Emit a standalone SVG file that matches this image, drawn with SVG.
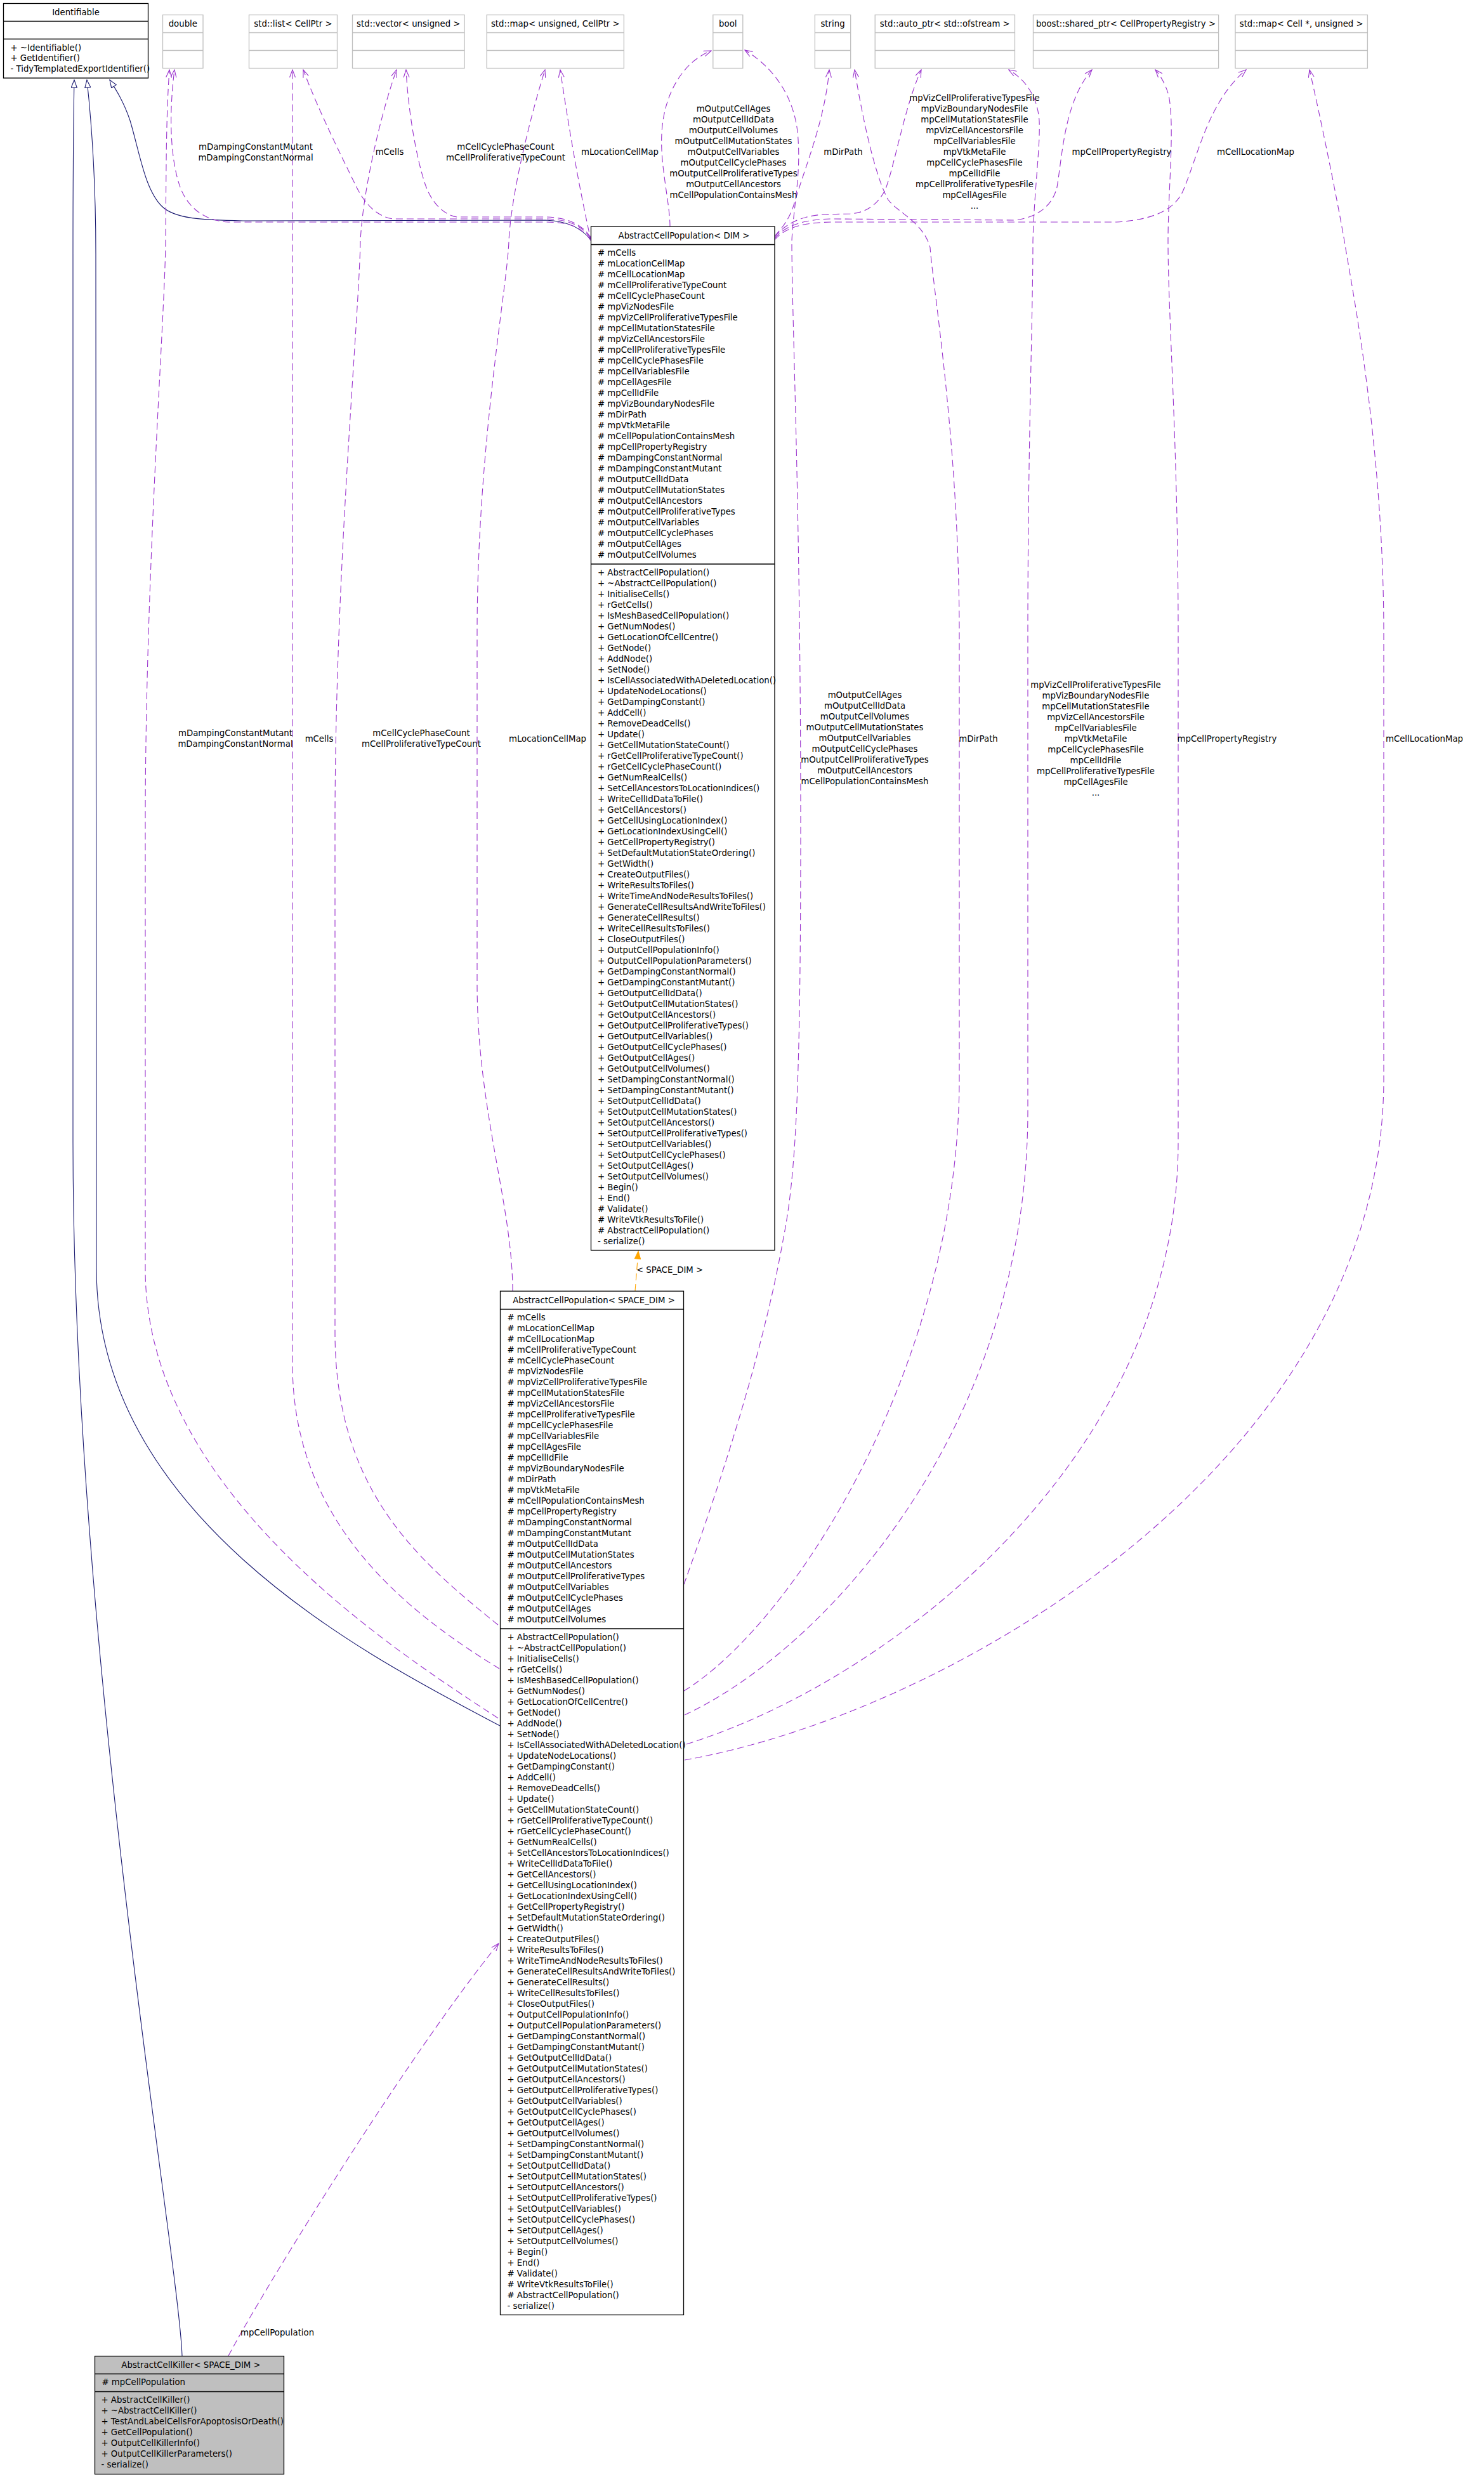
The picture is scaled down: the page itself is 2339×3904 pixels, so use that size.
<svg xmlns="http://www.w3.org/2000/svg" width="2339" height="3904" viewBox="0 0 2339 3904">
<style>
text { font-family: "DejaVu Sans", "Liberation Sans", sans-serif; font-size: 13.3px; fill: #000; }
.c { text-anchor: middle; }
.box { fill: #fff; stroke: #000; stroke-width: 1.3; }
.gbox { fill: #bfbfbf; stroke: #000; stroke-width: 1.3; }
.ext { fill: #fff; stroke: #bfbfbf; stroke-width: 1.3; }
.sep { stroke: #000; stroke-width: 1.3; }
.gsep { stroke: #bfbfbf; stroke-width: 1.3; }
.dep { fill: none; stroke: #9a32cd; stroke-width: 1.1; stroke-dasharray: 11 6; marker-end: url(#open); }
.inh { fill: none; stroke: #191970; stroke-width: 1.1; marker-end: url(#tri); }
.tpl { fill: none; stroke: #ffa500; stroke-width: 1.1; stroke-dasharray: 11 6; marker-end: url(#ftri); }
</style>
<defs>
<marker id="open" viewBox="0 0 14 10" refX="13" refY="5" markerWidth="14" markerHeight="10" markerUnits="userSpaceOnUse" orient="auto">
<path d="M1,0.5 L13,5 L1,9.5" fill="none" stroke="#9a32cd" stroke-width="1.1"/>
</marker>
<marker id="tri" viewBox="0 0 14 10" refX="13" refY="5" markerWidth="14" markerHeight="10" markerUnits="userSpaceOnUse" orient="auto">
<path d="M1,0.5 L13,5 L1,9.5 Z" fill="#fff" stroke="#191970" stroke-width="1.1"/>
</marker>
<marker id="ftri" viewBox="0 0 14 10" refX="13" refY="5" markerWidth="14" markerHeight="10" markerUnits="userSpaceOnUse" orient="auto">
<path d="M1,0.5 L13,5 L1,9.5 Z" fill="#ffa500" stroke="#ffa500" stroke-width="1.1"/>
</marker>
</defs>
<rect x="0" y="0" width="2339" height="3904" fill="#fff"/>

<g id="connectors">
<path class="inh" d="M931,377 C915,360 898,349 860,347 L383,348 C320,347 275,345 255,325 C228,298 220,240 205,190 C195,160 182,140 173,126"/>
<path class="inh" d="M788,2720 C600,2620 152,2400 152,2000 L151,400 C151,300 145,200 137,126"/>
<path class="inh" d="M287,3713 C282,3560 115,2600 115,1800 L115,400 C115,250 116,180 117,126"/>

<path class="dep" d="M931,379 C918,359 900,350 860,350 L360,350 C320,348 295,325 284,295 C268,250 266,180 275,110"/>
<path class="dep" d="M931,376 C918,357 900,346 860,345 L620,345 C595,342 575,322 561,293 C540,250 500,170 478,110"/>
<path class="dep" d="M931,374 C918,356 900,343 860,342 L720,342 C700,339 680,320 670,290 C655,245 643,170 640,110"/>
<path class="dep" d="M932,382 C925,350 905,260 883,110"/>

<path class="dep" d="M1056,357 C1056,320 1040,260 1043,210 C1046,150 1075,98 1121,80"/>
<path class="dep" d="M1221,372 C1232,360 1245,345 1252,320 C1270,260 1300,190 1307,110"/>
<path class="dep" d="M1221,374 C1235,355 1260,340 1300,338 L1340,337 C1370,335 1385,318 1395,300 C1410,262 1425,170 1452,110"/>
<path class="dep" d="M1221,376 C1237,356 1265,346 1310,345 L1600,347 C1640,342 1660,320 1666,295 C1675,240 1678,160 1721,110"/>
<path class="dep" d="M1221,378 C1238,358 1268,350 1315,350 L1760,350 C1820,346 1852,330 1865,300 C1890,240 1905,160 1964,110"/>

<path class="dep" d="M785,2708 C620,2600 229,2350 229,2000 L229,1300 C229,900 260,500 261,380 C262,250 262,180 267,110"/>
<path class="dep" d="M787,2630 C640,2540 461,2400 461,2150 L461,110"/>
<path class="dep" d="M785,2561 C660,2460 528,2350 528,2100 L528,1300 C528,900 566,500 568,380 C572,300 600,180 625,110"/>
<path class="dep" d="M808,2035 C808,1900 752,1750 752,1550 L752,1000 C752,700 800,450 802,380 C806,300 840,170 859,110"/>

<path class="dep" d="M1078,2497 C1120,2380 1200,2150 1235,1950 C1255,1850 1262,1700 1262,1300 C1262,800 1248,500 1248,380 C1250,330 1262,280 1258,220 C1255,160 1225,110 1174,79"/>
<path class="dep" d="M1078,2665 C1250,2560 1512,2150 1512,1700 L1512,1000 C1512,700 1470,450 1466,390 C1455,350 1415,335 1400,315 C1380,280 1360,190 1347,110"/>
<path class="dep" d="M1079,2703 C1300,2600 1620,2250 1620,1750 L1620,1000 C1620,700 1628,500 1628,380 C1630,300 1640,230 1638,190 C1635,150 1615,125 1590,110"/>
<path class="dep" d="M1082,2749 C1400,2650 1857,2300 1857,1800 L1857,1000 C1857,700 1841,500 1841,380 C1841,300 1852,200 1842,150 C1836,130 1828,118 1821,110"/>
<path class="dep" d="M1079,2774 C1500,2700 2181,2300 2181,1700 L2181,1000 C2181,700 2130,450 2119,380 C2105,300 2080,180 2064,110"/>

<path class="dep" d="M360,3713 C420,3600 650,3230 786,3063"/>

<path class="tpl" d="M1001,2035 L1006,1972"/>

<text class="c" x="403" y="235.5">mDampingConstantMutant</text>
<text class="c" x="403" y="252.5">mDampingConstantNormal</text>
<text class="c" x="614" y="243.5">mCells</text>
<text class="c" x="797" y="235.5">mCellCyclePhaseCount</text>
<text class="c" x="797" y="252.5">mCellProliferativeTypeCount</text>
<text class="c" x="977" y="243.5">mLocationCellMap</text>
<text class="c" y="175.5"><tspan x="1156">mOutputCellAges</tspan><tspan x="1156" dy="17">mOutputCellIdData</tspan><tspan x="1156" dy="17">mOutputCellVolumes</tspan><tspan x="1156" dy="17">mOutputCellMutationStates</tspan><tspan x="1156" dy="17">mOutputCellVariables</tspan><tspan x="1156" dy="17">mOutputCellCyclePhases</tspan><tspan x="1156" dy="17">mOutputCellProliferativeTypes</tspan><tspan x="1156" dy="17">mOutputCellAncestors</tspan><tspan x="1156" dy="17">mCellPopulationContainsMesh</tspan></text>
<text class="c" x="1329" y="243.5">mDirPath</text>
<text class="c" y="158.5"><tspan x="1536">mpVizCellProliferativeTypesFile</tspan><tspan x="1536" dy="17">mpVizBoundaryNodesFile</tspan><tspan x="1536" dy="17">mpCellMutationStatesFile</tspan><tspan x="1536" dy="17">mpVizCellAncestorsFile</tspan><tspan x="1536" dy="17">mpCellVariablesFile</tspan><tspan x="1536" dy="17">mpVtkMetaFile</tspan><tspan x="1536" dy="17">mpCellCyclePhasesFile</tspan><tspan x="1536" dy="17">mpCellIdFile</tspan><tspan x="1536" dy="17">mpCellProliferativeTypesFile</tspan><tspan x="1536" dy="17">mpCellAgesFile</tspan><tspan x="1536" dy="17">...</tspan></text>
<text class="c" x="1768" y="243.5">mpCellPropertyRegistry</text>
<text class="c" x="1979" y="243.5">mCellLocationMap</text>

<text class="c" x="371" y="1160">mDampingConstantMutant</text>
<text class="c" x="371" y="1177">mDampingConstantNormal</text>
<text class="c" x="503" y="1169">mCells</text>
<text class="c" x="664" y="1160">mCellCyclePhaseCount</text>
<text class="c" x="664" y="1177">mCellProliferativeTypeCount</text>
<text class="c" x="863" y="1169">mLocationCellMap</text>
<text class="c" y="1100"><tspan x="1363">mOutputCellAges</tspan><tspan x="1363" dy="17">mOutputCellIdData</tspan><tspan x="1363" dy="17">mOutputCellVolumes</tspan><tspan x="1363" dy="17">mOutputCellMutationStates</tspan><tspan x="1363" dy="17">mOutputCellVariables</tspan><tspan x="1363" dy="17">mOutputCellCyclePhases</tspan><tspan x="1363" dy="17">mOutputCellProliferativeTypes</tspan><tspan x="1363" dy="17">mOutputCellAncestors</tspan><tspan x="1363" dy="17">mCellPopulationContainsMesh</tspan></text>
<text class="c" x="1542" y="1168.5">mDirPath</text>
<text class="c" y="1084"><tspan x="1727">mpVizCellProliferativeTypesFile</tspan><tspan x="1727" dy="17">mpVizBoundaryNodesFile</tspan><tspan x="1727" dy="17">mpCellMutationStatesFile</tspan><tspan x="1727" dy="17">mpVizCellAncestorsFile</tspan><tspan x="1727" dy="17">mpCellVariablesFile</tspan><tspan x="1727" dy="17">mpVtkMetaFile</tspan><tspan x="1727" dy="17">mpCellCyclePhasesFile</tspan><tspan x="1727" dy="17">mpCellIdFile</tspan><tspan x="1727" dy="17">mpCellProliferativeTypesFile</tspan><tspan x="1727" dy="17">mpCellAgesFile</tspan><tspan x="1727" dy="17">...</tspan></text>
<text class="c" x="1934" y="1168.5">mpCellPropertyRegistry</text>
<text class="c" x="2245" y="1168.5">mCellLocationMap</text>
<text x="1003" y="2006">&lt; SPACE_DIM &gt;</text>
<text x="379" y="3681">mpCellPopulation</text>
</g>

<g id="Identifiable">
<rect class="box" x="5.5" y="5.5" width="228" height="117.5"/>
<line class="sep" x1="5.5" y1="33.5" x2="233.5" y2="33.5"/>
<line class="sep" x1="5.5" y1="61.5" x2="233.5" y2="61.5"/>
<text class="c" x="119.5" y="24.3">Identifiable</text>
<text x="16.5" y="79.5">+ ~Identifiable()</text>
<text x="16.5" y="96.3">+ GetIdentifier()</text>
<text x="16.5" y="113">- TidyTemplatedExportIdentifier()</text>
</g>

<g id="double">
<rect class="ext" x="256.5" y="23.5" width="63.5" height="84"/>
<line class="gsep" x1="256.5" y1="51.5" x2="320" y2="51.5"/>
<line class="gsep" x1="256.5" y1="79.5" x2="320" y2="79.5"/>
<text class="c" x="288.3" y="41.5">double</text>
</g>
<g id="std_list">
<rect class="ext" x="392.5" y="23.5" width="139" height="84"/>
<line class="gsep" x1="392.5" y1="51.5" x2="531.5" y2="51.5"/>
<line class="gsep" x1="392.5" y1="79.5" x2="531.5" y2="79.5"/>
<text class="c" x="462" y="41.5">std::list&lt; CellPtr &gt;</text>
</g>
<g id="std_vector">
<rect class="ext" x="555.5" y="23.5" width="176.6" height="84"/>
<line class="gsep" x1="555.5" y1="51.5" x2="732.1" y2="51.5"/>
<line class="gsep" x1="555.5" y1="79.5" x2="732.1" y2="79.5"/>
<text class="c" x="643.8" y="41.5">std::vector&lt; unsigned &gt;</text>
</g>
<g id="std_map_unsigned">
<rect class="ext" x="767.2" y="23.5" width="216.2" height="84"/>
<line class="gsep" x1="767.2" y1="51.5" x2="983.4" y2="51.5"/>
<line class="gsep" x1="767.2" y1="79.5" x2="983.4" y2="79.5"/>
<text class="c" x="875.3" y="41.5">std::map&lt; unsigned, CellPtr &gt;</text>
</g>
<g id="bool">
<rect class="ext" x="1123.8" y="23.5" width="47" height="84"/>
<line class="gsep" x1="1123.8" y1="51.5" x2="1170.8" y2="51.5"/>
<line class="gsep" x1="1123.8" y1="79.5" x2="1170.8" y2="79.5"/>
<text class="c" x="1147.3" y="41.5">bool</text>
</g>
<g id="string">
<rect class="ext" x="1284.4" y="23.5" width="56.3" height="84"/>
<line class="gsep" x1="1284.4" y1="51.5" x2="1340.7" y2="51.5"/>
<line class="gsep" x1="1284.4" y1="79.5" x2="1340.7" y2="79.5"/>
<text class="c" x="1312.5" y="41.5">string</text>
</g>
<g id="std_auto_ptr">
<rect class="ext" x="1379.2" y="23.5" width="220.3" height="84"/>
<line class="gsep" x1="1379.2" y1="51.5" x2="1599.5" y2="51.5"/>
<line class="gsep" x1="1379.2" y1="79.5" x2="1599.5" y2="79.5"/>
<text class="c" x="1489.3" y="41.5">std::auto_ptr&lt; std::ofstream &gt;</text>
</g>
<g id="boost_shared_ptr">
<rect class="ext" x="1628.5" y="23.5" width="292.1" height="84"/>
<line class="gsep" x1="1628.5" y1="51.5" x2="1920.6" y2="51.5"/>
<line class="gsep" x1="1628.5" y1="79.5" x2="1920.6" y2="79.5"/>
<text class="c" x="1774.5" y="41.5">boost::shared_ptr&lt; CellPropertyRegistry &gt;</text>
</g>
<g id="std_map_cell">
<rect class="ext" x="1947" y="23.5" width="208.4" height="84"/>
<line class="gsep" x1="1947" y1="51.5" x2="2155.4" y2="51.5"/>
<line class="gsep" x1="1947" y1="79.5" x2="2155.4" y2="79.5"/>
<text class="c" x="2051.2" y="41.5">std::map&lt; Cell *, unsigned &gt;</text>
</g>

<g id="AbstractCellPopulation_DIM">
<rect class="box" x="931.5" y="357" width="289.5" height="1613.5"/>
<line class="sep" x1="931.5" y1="385.5" x2="1221" y2="385.5"/>
<line class="sep" x1="931.5" y1="889" x2="1221" y2="889"/>
<text class="c" x="1078" y="376">AbstractCellPopulation&lt; DIM &gt;</text>
<text y="402.5"><tspan x="942"># mCells</tspan><tspan x="942" dy="17"># mLocationCellMap</tspan><tspan x="942" dy="17"># mCellLocationMap</tspan><tspan x="942" dy="17"># mCellProliferativeTypeCount</tspan><tspan x="942" dy="17"># mCellCyclePhaseCount</tspan><tspan x="942" dy="17"># mpVizNodesFile</tspan><tspan x="942" dy="17"># mpVizCellProliferativeTypesFile</tspan><tspan x="942" dy="17"># mpCellMutationStatesFile</tspan><tspan x="942" dy="17"># mpVizCellAncestorsFile</tspan><tspan x="942" dy="17"># mpCellProliferativeTypesFile</tspan><tspan x="942" dy="17"># mpCellCyclePhasesFile</tspan><tspan x="942" dy="17"># mpCellVariablesFile</tspan><tspan x="942" dy="17"># mpCellAgesFile</tspan><tspan x="942" dy="17"># mpCellIdFile</tspan><tspan x="942" dy="17"># mpVizBoundaryNodesFile</tspan><tspan x="942" dy="17"># mDirPath</tspan><tspan x="942" dy="17"># mpVtkMetaFile</tspan><tspan x="942" dy="17"># mCellPopulationContainsMesh</tspan><tspan x="942" dy="17"># mpCellPropertyRegistry</tspan><tspan x="942" dy="17"># mDampingConstantNormal</tspan><tspan x="942" dy="17"># mDampingConstantMutant</tspan><tspan x="942" dy="17"># mOutputCellIdData</tspan><tspan x="942" dy="17"># mOutputCellMutationStates</tspan><tspan x="942" dy="17"># mOutputCellAncestors</tspan><tspan x="942" dy="17"># mOutputCellProliferativeTypes</tspan><tspan x="942" dy="17"># mOutputCellVariables</tspan><tspan x="942" dy="17"># mOutputCellCyclePhases</tspan><tspan x="942" dy="17"># mOutputCellAges</tspan><tspan x="942" dy="17"># mOutputCellVolumes</tspan></text>
<text y="906.5"><tspan x="942">+ AbstractCellPopulation()</tspan><tspan x="942" dy="17">+ ~AbstractCellPopulation()</tspan><tspan x="942" dy="17">+ InitialiseCells()</tspan><tspan x="942" dy="17">+ rGetCells()</tspan><tspan x="942" dy="17">+ IsMeshBasedCellPopulation()</tspan><tspan x="942" dy="17">+ GetNumNodes()</tspan><tspan x="942" dy="17">+ GetLocationOfCellCentre()</tspan><tspan x="942" dy="17">+ GetNode()</tspan><tspan x="942" dy="17">+ AddNode()</tspan><tspan x="942" dy="17">+ SetNode()</tspan><tspan x="942" dy="17">+ IsCellAssociatedWithADeletedLocation()</tspan><tspan x="942" dy="17">+ UpdateNodeLocations()</tspan><tspan x="942" dy="17">+ GetDampingConstant()</tspan><tspan x="942" dy="17">+ AddCell()</tspan><tspan x="942" dy="17">+ RemoveDeadCells()</tspan><tspan x="942" dy="17">+ Update()</tspan><tspan x="942" dy="17">+ GetCellMutationStateCount()</tspan><tspan x="942" dy="17">+ rGetCellProliferativeTypeCount()</tspan><tspan x="942" dy="17">+ rGetCellCyclePhaseCount()</tspan><tspan x="942" dy="17">+ GetNumRealCells()</tspan><tspan x="942" dy="17">+ SetCellAncestorsToLocationIndices()</tspan><tspan x="942" dy="17">+ WriteCellIdDataToFile()</tspan><tspan x="942" dy="17">+ GetCellAncestors()</tspan><tspan x="942" dy="17">+ GetCellUsingLocationIndex()</tspan><tspan x="942" dy="17">+ GetLocationIndexUsingCell()</tspan><tspan x="942" dy="17">+ GetCellPropertyRegistry()</tspan><tspan x="942" dy="17">+ SetDefaultMutationStateOrdering()</tspan><tspan x="942" dy="17">+ GetWidth()</tspan><tspan x="942" dy="17">+ CreateOutputFiles()</tspan><tspan x="942" dy="17">+ WriteResultsToFiles()</tspan><tspan x="942" dy="17">+ WriteTimeAndNodeResultsToFiles()</tspan><tspan x="942" dy="17">+ GenerateCellResultsAndWriteToFiles()</tspan><tspan x="942" dy="17">+ GenerateCellResults()</tspan><tspan x="942" dy="17">+ WriteCellResultsToFiles()</tspan><tspan x="942" dy="17">+ CloseOutputFiles()</tspan><tspan x="942" dy="17">+ OutputCellPopulationInfo()</tspan><tspan x="942" dy="17">+ OutputCellPopulationParameters()</tspan><tspan x="942" dy="17">+ GetDampingConstantNormal()</tspan><tspan x="942" dy="17">+ GetDampingConstantMutant()</tspan><tspan x="942" dy="17">+ GetOutputCellIdData()</tspan><tspan x="942" dy="17">+ GetOutputCellMutationStates()</tspan><tspan x="942" dy="17">+ GetOutputCellAncestors()</tspan><tspan x="942" dy="17">+ GetOutputCellProliferativeTypes()</tspan><tspan x="942" dy="17">+ GetOutputCellVariables()</tspan><tspan x="942" dy="17">+ GetOutputCellCyclePhases()</tspan><tspan x="942" dy="17">+ GetOutputCellAges()</tspan><tspan x="942" dy="17">+ GetOutputCellVolumes()</tspan><tspan x="942" dy="17">+ SetDampingConstantNormal()</tspan><tspan x="942" dy="17">+ SetDampingConstantMutant()</tspan><tspan x="942" dy="17">+ SetOutputCellIdData()</tspan><tspan x="942" dy="17">+ SetOutputCellMutationStates()</tspan><tspan x="942" dy="17">+ SetOutputCellAncestors()</tspan><tspan x="942" dy="17">+ SetOutputCellProliferativeTypes()</tspan><tspan x="942" dy="17">+ SetOutputCellVariables()</tspan><tspan x="942" dy="17">+ SetOutputCellCyclePhases()</tspan><tspan x="942" dy="17">+ SetOutputCellAges()</tspan><tspan x="942" dy="17">+ SetOutputCellVolumes()</tspan><tspan x="942" dy="17">+ Begin()</tspan><tspan x="942" dy="17">+ End()</tspan><tspan x="942" dy="17"># Validate()</tspan><tspan x="942" dy="17"># WriteVtkResultsToFile()</tspan><tspan x="942" dy="17"># AbstractCellPopulation()</tspan><tspan x="942" dy="17">- serialize()</tspan></text>
</g>

<g id="AbstractCellPopulation_SPACE_DIM">
<rect class="box" x="788.5" y="2035" width="289" height="1613.5"/>
<line class="sep" x1="788.5" y1="2063.5" x2="1077.5" y2="2063.5"/>
<line class="sep" x1="788.5" y1="2567" x2="1077.5" y2="2567"/>
<text class="c" x="936" y="2054">AbstractCellPopulation&lt; SPACE_DIM &gt;</text>
<text y="2080.5"><tspan x="799.5"># mCells</tspan><tspan x="799.5" dy="17"># mLocationCellMap</tspan><tspan x="799.5" dy="17"># mCellLocationMap</tspan><tspan x="799.5" dy="17"># mCellProliferativeTypeCount</tspan><tspan x="799.5" dy="17"># mCellCyclePhaseCount</tspan><tspan x="799.5" dy="17"># mpVizNodesFile</tspan><tspan x="799.5" dy="17"># mpVizCellProliferativeTypesFile</tspan><tspan x="799.5" dy="17"># mpCellMutationStatesFile</tspan><tspan x="799.5" dy="17"># mpVizCellAncestorsFile</tspan><tspan x="799.5" dy="17"># mpCellProliferativeTypesFile</tspan><tspan x="799.5" dy="17"># mpCellCyclePhasesFile</tspan><tspan x="799.5" dy="17"># mpCellVariablesFile</tspan><tspan x="799.5" dy="17"># mpCellAgesFile</tspan><tspan x="799.5" dy="17"># mpCellIdFile</tspan><tspan x="799.5" dy="17"># mpVizBoundaryNodesFile</tspan><tspan x="799.5" dy="17"># mDirPath</tspan><tspan x="799.5" dy="17"># mpVtkMetaFile</tspan><tspan x="799.5" dy="17"># mCellPopulationContainsMesh</tspan><tspan x="799.5" dy="17"># mpCellPropertyRegistry</tspan><tspan x="799.5" dy="17"># mDampingConstantNormal</tspan><tspan x="799.5" dy="17"># mDampingConstantMutant</tspan><tspan x="799.5" dy="17"># mOutputCellIdData</tspan><tspan x="799.5" dy="17"># mOutputCellMutationStates</tspan><tspan x="799.5" dy="17"># mOutputCellAncestors</tspan><tspan x="799.5" dy="17"># mOutputCellProliferativeTypes</tspan><tspan x="799.5" dy="17"># mOutputCellVariables</tspan><tspan x="799.5" dy="17"># mOutputCellCyclePhases</tspan><tspan x="799.5" dy="17"># mOutputCellAges</tspan><tspan x="799.5" dy="17"># mOutputCellVolumes</tspan></text>
<text y="2584.5"><tspan x="799.5">+ AbstractCellPopulation()</tspan><tspan x="799.5" dy="17">+ ~AbstractCellPopulation()</tspan><tspan x="799.5" dy="17">+ InitialiseCells()</tspan><tspan x="799.5" dy="17">+ rGetCells()</tspan><tspan x="799.5" dy="17">+ IsMeshBasedCellPopulation()</tspan><tspan x="799.5" dy="17">+ GetNumNodes()</tspan><tspan x="799.5" dy="17">+ GetLocationOfCellCentre()</tspan><tspan x="799.5" dy="17">+ GetNode()</tspan><tspan x="799.5" dy="17">+ AddNode()</tspan><tspan x="799.5" dy="17">+ SetNode()</tspan><tspan x="799.5" dy="17">+ IsCellAssociatedWithADeletedLocation()</tspan><tspan x="799.5" dy="17">+ UpdateNodeLocations()</tspan><tspan x="799.5" dy="17">+ GetDampingConstant()</tspan><tspan x="799.5" dy="17">+ AddCell()</tspan><tspan x="799.5" dy="17">+ RemoveDeadCells()</tspan><tspan x="799.5" dy="17">+ Update()</tspan><tspan x="799.5" dy="17">+ GetCellMutationStateCount()</tspan><tspan x="799.5" dy="17">+ rGetCellProliferativeTypeCount()</tspan><tspan x="799.5" dy="17">+ rGetCellCyclePhaseCount()</tspan><tspan x="799.5" dy="17">+ GetNumRealCells()</tspan><tspan x="799.5" dy="17">+ SetCellAncestorsToLocationIndices()</tspan><tspan x="799.5" dy="17">+ WriteCellIdDataToFile()</tspan><tspan x="799.5" dy="17">+ GetCellAncestors()</tspan><tspan x="799.5" dy="17">+ GetCellUsingLocationIndex()</tspan><tspan x="799.5" dy="17">+ GetLocationIndexUsingCell()</tspan><tspan x="799.5" dy="17">+ GetCellPropertyRegistry()</tspan><tspan x="799.5" dy="17">+ SetDefaultMutationStateOrdering()</tspan><tspan x="799.5" dy="17">+ GetWidth()</tspan><tspan x="799.5" dy="17">+ CreateOutputFiles()</tspan><tspan x="799.5" dy="17">+ WriteResultsToFiles()</tspan><tspan x="799.5" dy="17">+ WriteTimeAndNodeResultsToFiles()</tspan><tspan x="799.5" dy="17">+ GenerateCellResultsAndWriteToFiles()</tspan><tspan x="799.5" dy="17">+ GenerateCellResults()</tspan><tspan x="799.5" dy="17">+ WriteCellResultsToFiles()</tspan><tspan x="799.5" dy="17">+ CloseOutputFiles()</tspan><tspan x="799.5" dy="17">+ OutputCellPopulationInfo()</tspan><tspan x="799.5" dy="17">+ OutputCellPopulationParameters()</tspan><tspan x="799.5" dy="17">+ GetDampingConstantNormal()</tspan><tspan x="799.5" dy="17">+ GetDampingConstantMutant()</tspan><tspan x="799.5" dy="17">+ GetOutputCellIdData()</tspan><tspan x="799.5" dy="17">+ GetOutputCellMutationStates()</tspan><tspan x="799.5" dy="17">+ GetOutputCellAncestors()</tspan><tspan x="799.5" dy="17">+ GetOutputCellProliferativeTypes()</tspan><tspan x="799.5" dy="17">+ GetOutputCellVariables()</tspan><tspan x="799.5" dy="17">+ GetOutputCellCyclePhases()</tspan><tspan x="799.5" dy="17">+ GetOutputCellAges()</tspan><tspan x="799.5" dy="17">+ GetOutputCellVolumes()</tspan><tspan x="799.5" dy="17">+ SetDampingConstantNormal()</tspan><tspan x="799.5" dy="17">+ SetDampingConstantMutant()</tspan><tspan x="799.5" dy="17">+ SetOutputCellIdData()</tspan><tspan x="799.5" dy="17">+ SetOutputCellMutationStates()</tspan><tspan x="799.5" dy="17">+ SetOutputCellAncestors()</tspan><tspan x="799.5" dy="17">+ SetOutputCellProliferativeTypes()</tspan><tspan x="799.5" dy="17">+ SetOutputCellVariables()</tspan><tspan x="799.5" dy="17">+ SetOutputCellCyclePhases()</tspan><tspan x="799.5" dy="17">+ SetOutputCellAges()</tspan><tspan x="799.5" dy="17">+ SetOutputCellVolumes()</tspan><tspan x="799.5" dy="17">+ Begin()</tspan><tspan x="799.5" dy="17">+ End()</tspan><tspan x="799.5" dy="17"># Validate()</tspan><tspan x="799.5" dy="17"># WriteVtkResultsToFile()</tspan><tspan x="799.5" dy="17"># AbstractCellPopulation()</tspan><tspan x="799.5" dy="17">- serialize()</tspan></text>
</g>

<g id="AbstractCellKiller_SPACE_DIM">
<rect class="gbox" x="149.5" y="3713.5" width="298" height="186"/>
<line class="sep" x1="149.5" y1="3741.5" x2="447.5" y2="3741.5"/>
<line class="sep" x1="149.5" y1="3769.5" x2="447.5" y2="3769.5"/>
<text class="c" x="301" y="3731.5">AbstractCellKiller&lt; SPACE_DIM &gt;</text>
<text x="160.5" y="3759"># mpCellPopulation</text>
<text y="3787.3"><tspan x="159.5">+ AbstractCellKiller()</tspan><tspan x="159.5" dy="17">+ ~AbstractCellKiller()</tspan><tspan x="159.5" dy="17">+ TestAndLabelCellsForApoptosisOrDeath()</tspan><tspan x="159.5" dy="17">+ GetCellPopulation()</tspan><tspan x="159.5" dy="17">+ OutputCellKillerInfo()</tspan><tspan x="159.5" dy="17">+ OutputCellKillerParameters()</tspan><tspan x="159.5" dy="17">- serialize()</tspan></text>
</g>
</svg>
